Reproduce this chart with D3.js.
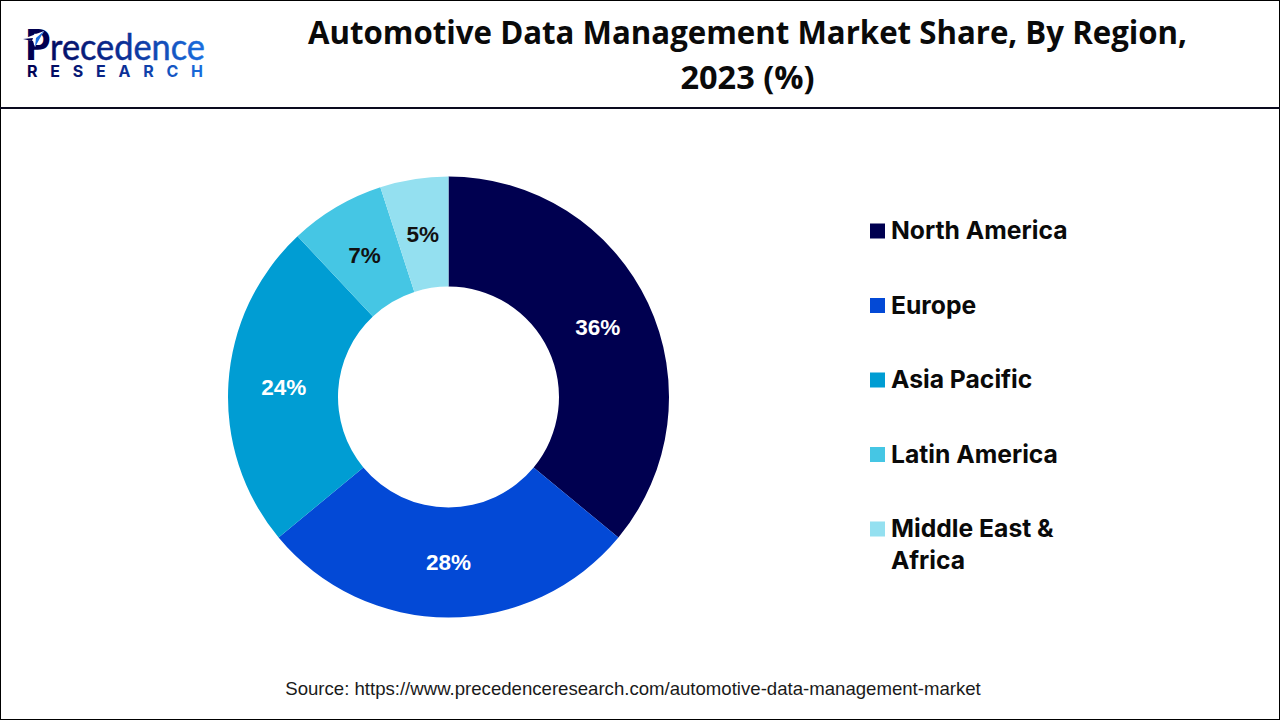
<!DOCTYPE html>
<html>
<head>
<meta charset="utf-8">
<script src="https://cdn.jsdelivr.net/npm/d3@7"></script>
<style>
html, body { margin: 0; padding: 0; background: #fff; overflow: hidden; }
text { font-family: "Liberation Sans", Arial, sans-serif; }
</style>
</head>
<body>
<div id="chart"></div>
<script>
// Data
const regions = ["North America", "Europe", "Asia Pacific", "Latin America", "Middle East & Africa"];
const shares = [36, 28, 24, 7, 5];
const colors = ["#000050", "#0349d6", "#009dd3", "#45c6e4", "#94e0f0"];
const labelColors = ["#fff", "#fff", "#fff", "#111", "#111"];
const titleLines = ["Automotive Data Management Market Share, By Region,", "2023 (%)"];
const sourceText = "Source: https://www.precedenceresearch.com/automotive-data-management-market";

const width = 1280;
const height = 720;

const svg = d3.select("#chart")
    .append("svg")
    .attr("width", width)
    .attr("height", height)
    .style("display", "block");

// Frame and header rule
svg.append("rect")
    .attr("x", 0.5).attr("y", 0.5)
    .attr("width", width - 1).attr("height", height - 1)
    .attr("fill", "#fff")
    .attr("stroke", "#000");

svg.append("line")
    .attr("x1", 0).attr("x2", width)
    .attr("y1", 108).attr("y2", 108)
    .attr("stroke", "#0a0a1e")
    .attr("stroke-width", 2);

// Logo: wordmark plus the little plane on the P
const logo = svg.append("g");
const logoGrad = svg.append("defs").append("linearGradient")
    .attr("id", "logoGrad")
    .attr("gradientUnits", "userSpaceOnUse")
    .attr("x1", 25).attr("x2", 205).attr("y1", 0).attr("y2", 0);
logoGrad.append("stop").attr("offset", "0%").attr("stop-color", "#000050");
logoGrad.append("stop").attr("offset", "55%").attr("stop-color", "#0b2f96");
logoGrad.append("stop").attr("offset", "100%").attr("stop-color", "#1a6fe0");

const wordmark = logo.append("text")
    .attr("x", 25).attr("y", 60)
    .attr("font-size", 36)
    .attr("fill", "url(#logoGrad)")
    .attr("textLength", 180)
    .attr("lengthAdjust", "spacingAndGlyphs")
    .style("font-family", "Lato, sans-serif");

wordmark.append("tspan")
    .attr("font-size", 42)
    .attr("font-weight", 900)
    .attr("fill", "#000050")
    .text("P");

wordmark.append("tspan")
    .attr("stroke", "url(#logoGrad)")
    .attr("stroke-width", 0.5)
    .text("recedence");

logo.append("path")
    .attr("d", "M23,39 L44,31 L35,47 L33,41 Z")
    .attr("fill", "#fff");
logo.append("path")
    .attr("d", "M23,39 L33,38 L32,41 Z")
    .attr("fill", "#000050");
logo.append("path")
    .attr("d", "M44,31 L35,47 L36,38 Z")
    .attr("fill", "#1a6fe0");

logo.append("text")
    .attr("x", 27).attr("y", 77)
    .attr("font-size", 16)
    .attr("font-weight", 700)
    .attr("fill", "url(#logoGrad)")
    .attr("textLength", 176)
    .style("font-family", "Inter, sans-serif")
    .text("RESEARCH");

// Title
svg.append("g")
    .selectAll("text")
    .data(titleLines)
    .join("text")
    .attr("x", 747.5)
    .attr("y", (d, i) => 44 + i * 45)
    .attr("text-anchor", "middle")
    .attr("font-size", 32.5)
    .attr("font-weight", 700)
    .attr("fill", "#0a0a0a")
    .attr("textLength", (d, i) => i === 0 ? 879 : null)
    .attr("lengthAdjust", "spacingAndGlyphs")
    .style("font-family", "'Open Sans', sans-serif")
    .text(d => d);

// Donut
const pie = d3.pie().sort(null).value(d => d);
const arc = d3.arc().innerRadius(110.5).outerRadius(220.5);
const labelArc = d3.arc().innerRadius(165).outerRadius(165);

const donut = svg.append("g")
    .attr("transform", "translate(448.5,397)");

const arcs = pie(shares);

donut.selectAll("path")
    .data(arcs)
    .join("path")
    .attr("d", arc)
    .attr("fill", (d, i) => colors[i]);

donut.selectAll("text")
    .data(arcs)
    .join("text")
    .attr("x", d => labelArc.centroid(d)[0])
    .attr("y", d => labelArc.centroid(d)[1])
    .attr("dy", "0.36em")
    .attr("text-anchor", "middle")
    .attr("font-size", 22.5)
    .attr("font-weight", 700)
    .attr("fill", (d, i) => labelColors[i])
    .text(d => d.data + "%");

// Legend
const legendY = d3.scalePoint()
    .domain(regions)
    .range([231, 529]);

const legend = svg.append("g")
    .selectAll("g")
    .data(regions)
    .join("g")
    .attr("transform", d => `translate(870,${legendY(d)})`);

legend.append("rect")
    .attr("x", 0).attr("y", -7.5)
    .attr("width", 15).attr("height", 15)
    .attr("fill", (d, i) => colors[i]);

legend.append("text")
    .attr("font-size", 24.7)
    .attr("font-weight", 700)
    .attr("fill", "#0a0a0a")
    .style("font-family", "Inter, sans-serif")
    .each(function(d) {
        // long names wrap onto two lines
        const lines = d === "Middle East & Africa" ? ["Middle East &", "Africa"] : [d];
        d3.select(this).selectAll("tspan")
            .data(lines)
            .join("tspan")
            .attr("x", 21)
            .attr("y", (l, i) => 8 + i * 32)
            .text(l => l);
    });

// Source
svg.append("text")
    .attr("x", 633)
    .attr("y", 695)
    .attr("text-anchor", "middle")
    .attr("font-size", 18.6)
    .attr("fill", "#1a1a1a")
    .text(sourceText);
</script>
</body>
</html>
